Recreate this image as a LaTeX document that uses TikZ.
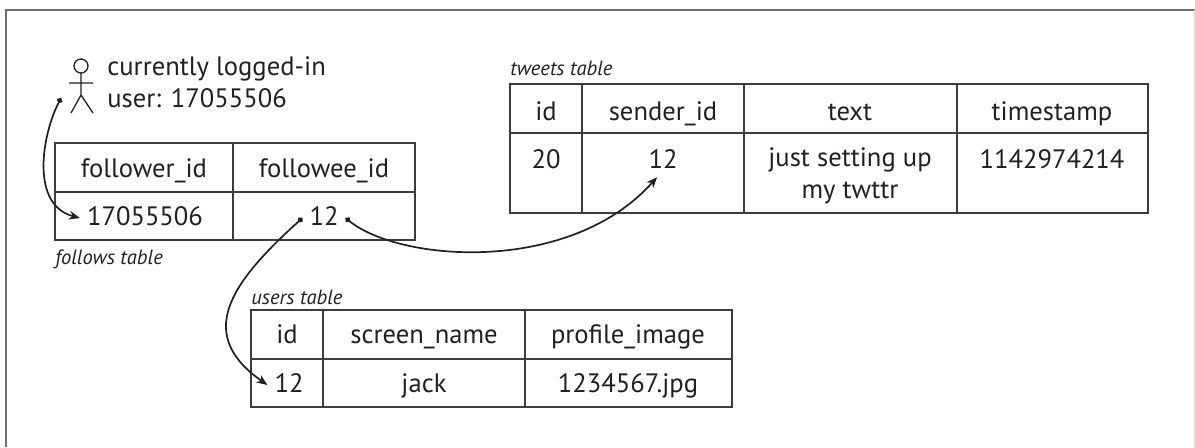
\documentclass[tikz,border=0pt]{standalone}
\usepackage{fontspec}
\setmainfont{PT Sans}
\usetikzlibrary{arrows.meta}
\definecolor{ink}{HTML}{231F20}
\definecolor{rulecol}{HTML}{3C3C3C}
\definecolor{framecol}{HTML}{707070}

\begin{document}
\begin{tikzpicture}[x=0.5pt, y=-0.5pt, font=\fontsize{13.3}{16}\selectfont, text=ink,
		cell/.style={text height=8pt, text depth=1pt},
		caption/.style={anchor=west, inner sep=0pt, font=\fontsize{10.3}{12}\itshape},
		tablerule/.style={draw=rulecol, line width=0.6pt},
		link/.style={ink, line width=0.85pt, {Circle[length=2.8pt]}-{Stealth[length=5.5pt, width=4.4pt]}}]
		\useasboundingbox (0,0) rectangle (1195,447);
		\draw[framecol, line width=0.75pt] (6,447) -- (6,10) -- (1195,10);
		\draw[black!12, line width=0.5pt] (1194.5,10) -- (1194.5,447);
		
		\draw[ink, line width=0.65pt] (81,66) circle[radius=7] (81,73) -- (81,95) (69,83) -- (93,83) (71,113) -- (81,95) -- (93,113);
		\coordinate (me) at (61,98);
		\node (user) at (107,82) [anchor=west, inner sep=0pt, align=left] {currently logged-in\\user: 17055506};
		
		\draw[tablerule] (55,143) rectangle (415,240) (55,192) -- (415,192) (233,143) -- (233,240);
		\node (fhA) at (144,170) [cell] {follower\_id};
		\node (fhB) at (324,170) [cell] {followee\_id};
		\node (fwr) at (145,218) [cell] {17055506};
		\node (f12) at (324,218) [cell] {12};
		\node (fcap) at (55,259) [caption] {follows table};
		
		\draw[tablerule] (510,84) rectangle (1148,213) (510,133) -- (1148,133) (582,84) -- (582,213) (744,84) -- (744,213) (957,84) -- (957,213);
		\node (thA) at (546,113) [cell] {id};
		\node (thB) at (663,113) [cell] {sender\_id};
		\node (thC) at (850,113) [cell] {text};
		\node (thD) at (1052,113) [cell] {timestamp};
		\node (t20) at (546,161) [cell] {20};
		\node (t12) at (663,161) [cell] {12};
		\node (ttxt) at (850,176) [align=center] {just setting up\\my twttr};
		\node (tts) at (1052,161) [cell] {1142974214};
		\node (tcap) at (510,68) [caption] {tweets table};
		
		\draw[tablerule] (251,310) rectangle (732,407) (251,359) -- (732,359) (323,310) -- (323,407) (525,310) -- (525,407);
		\node (uhA) at (287,336) [cell] {id};
		\node (uhB) at (424,336) [cell] {screen\_name};
		\node (uhC) at (628,336) [cell] {profile\_image};
		\node (u12) at (289,385) [cell] {12};
		\node (ujk) at (424,385) [cell] {jack};
		\node (ujp) at (628,385) [cell] {1234567.jpg};
		\node (ucap) at (251,297) [caption] {users table};
		
		\draw[link] (me) .. controls (42,135) and (30,205) .. (fwr.west);
		\draw[link] (f12.west) .. controls (228,285) and (196,335) .. (u12.west);
		\draw[link] (f12.east) .. controls (400,262) and (570,275) .. (t12.250);
\end{tikzpicture}
\end{document}
